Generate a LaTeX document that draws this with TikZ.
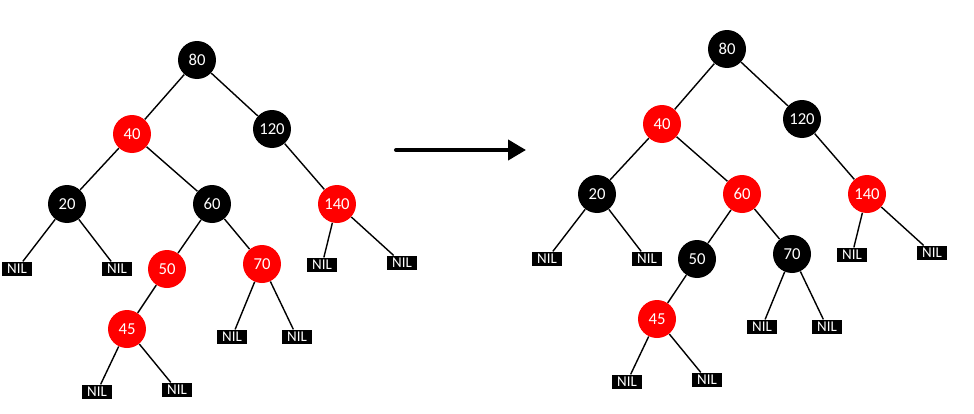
\documentclass[tikz,border=0pt]{standalone}
\usepackage{fontspec}
\setmainfont{Carlito}
\usetikzlibrary{
  arrows.meta
}

\begin{document}
\begin{tikzpicture}[
    x=0.02cm,
    y=-0.02cm,
    rbnode/.style={circle,minimum size=0.76cm,inner sep=0pt,text=white,font=\fontsize{9.5}{11}\selectfont},
    blknode/.style={rbnode,fill=black},
    rednode/.style={rbnode,fill=red},
    nilleaf/.style={fill=black,text=white,minimum width=0.6cm,minimum height=0.29cm,inner sep=0pt,font=\fontsize{8.5}{10}\selectfont},
    treeedge/.style={line width=0.8pt},
  ]
  \useasboundingbox (0,0) rectangle (974,413);

  % tree before
  \node[blknode] (l80) at (197,60) {80};
  \node[rednode] (l40) at (132,134) {40};
  \node[blknode] (l120) at (272,129) {120};
  \node[blknode] (l20) at (67,204) {20};
  \node[blknode] (l60) at (212,204) {60};
  \node[rednode] (l140) at (337,204) {140};
  \node[rednode] (l50) at (167,269) {50};
  \node[rednode] (l70) at (262,264) {70};
  \node[rednode] (l45) at (127,329) {45};
  \node[nilleaf] (ln1) at (17,269) {NIL};
  \node[nilleaf] (ln2) at (117,269) {NIL};
  \node[nilleaf] (ln3) at (232,337) {NIL};
  \node[nilleaf] (ln4) at (297,337) {NIL};
  \node[nilleaf] (ln5) at (97,392) {NIL};
  \node[nilleaf] (ln6) at (177,390) {NIL};
  \node[nilleaf] (ln7) at (322,265) {NIL};
  \node[nilleaf] (ln8) at (402,263) {NIL};

  % tree after
  \node[blknode] (r80) at (727,49) {80};
  \node[rednode] (r40) at (662,124) {40};
  \node[blknode] (r120) at (802,119) {120};
  \node[blknode] (r20) at (597,194) {20};
  \node[rednode] (r60) at (742,194) {60};
  \node[rednode] (r140) at (867,194) {140};
  \node[blknode] (r50) at (697,259) {50};
  \node[blknode] (r70) at (792,254) {70};
  \node[rednode] (r45) at (657,319) {45};
  \node[nilleaf] (rn1) at (547,259) {NIL};
  \node[nilleaf] (rn2) at (647,259) {NIL};
  \node[nilleaf] (rn3) at (762,327) {NIL};
  \node[nilleaf] (rn4) at (827,327) {NIL};
  \node[nilleaf] (rn5) at (627,382) {NIL};
  \node[nilleaf] (rn6) at (707,380) {NIL};
  \node[nilleaf] (rn7) at (852,255) {NIL};
  \node[nilleaf] (rn8) at (932,253) {NIL};

  \foreach \t in {l,r} {
    \foreach \a/\b in {80/40,80/120,40/20,40/60,120/140,20/n1,20/n2,60/50,60/70,50/45,45/n5,45/n6,70/n3,70/n4,140/n7,140/n8}
      \draw[treeedge] (\t\a) -- (\t\b);
  }

  % recolouring step
  \coordinate (arrowstart) at (396,150);
  \coordinate (arrowend) at (526,150);
  \draw[line width=2.3pt,line cap=round,-{Triangle[length=0.36cm,width=0.4cm]}] (arrowstart) -- (arrowend);
\end{tikzpicture}
\end{document}
